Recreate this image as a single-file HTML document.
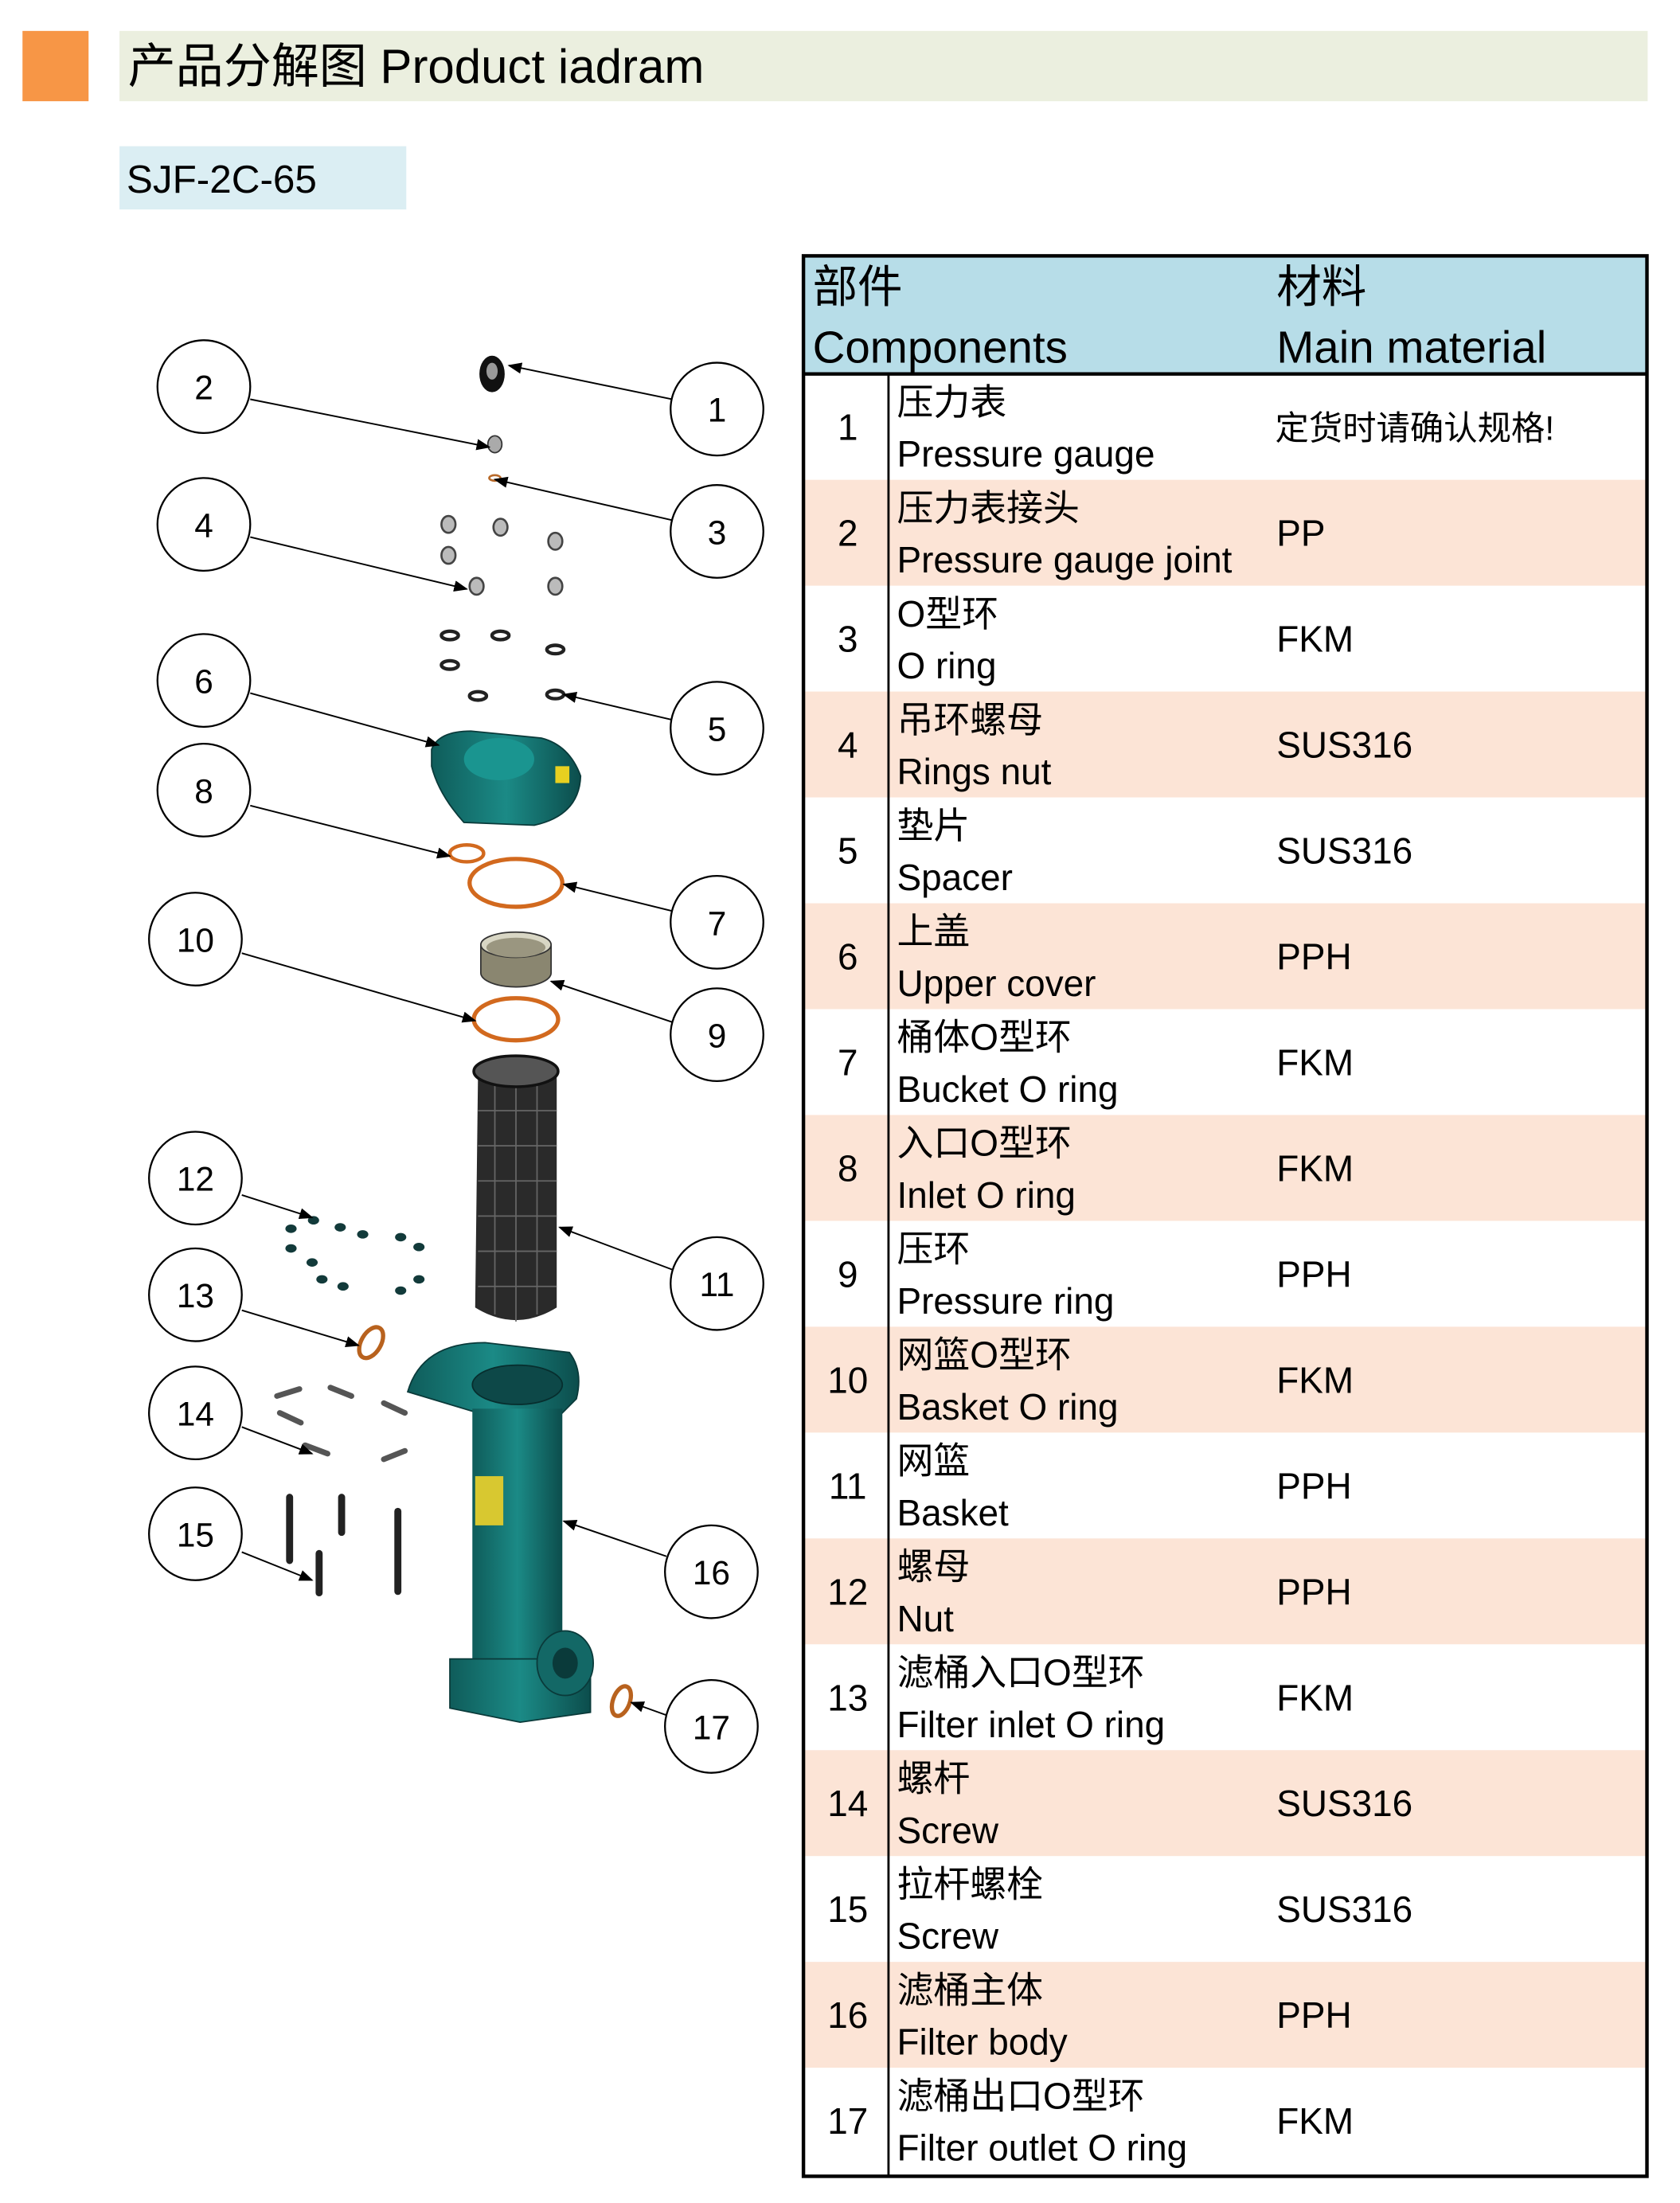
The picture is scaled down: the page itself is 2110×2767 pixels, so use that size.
<!DOCTYPE html>
<html><head><meta charset="utf-8"><style>html,body{margin:0;padding:0;background:#fff}svg{display:block}</style></head><body>
<svg width="2110" height="2767" viewBox="0 0 1195 1567" preserveAspectRatio="none" xmlns="http://www.w3.org/2000/svg" font-family="'Liberation Sans','Noto Sans CJK SC',sans-serif">
<defs><marker id="a" markerWidth="10" markerHeight="8" refX="9" refY="4" orient="auto" markerUnits="userSpaceOnUse"><path d="M0,0 L10,4 L0,8 z" fill="#000"/></marker>
<linearGradient id="teal" x1="0" x2="1"><stop offset="0" stop-color="#0f5c5a"/><stop offset="0.5" stop-color="#1b8a86"/><stop offset="1" stop-color="#0c4d4c"/></linearGradient></defs>
<rect x="16" y="22" width="47" height="50" fill="#f79646"/>
<rect x="85" y="22" width="1087" height="50" fill="#ebefdf"/>
<text x="91" y="59" font-size="34">产品分解图 Product iadram</text>
<rect x="85" y="104" width="204" height="45" fill="#dbeef3"/>
<text x="90" y="137" font-size="28">SJF-2C-65</text>
<rect x="571" y="181" width="601" height="85" fill="#b7dde8"/>
<text x="578" y="215" font-size="32">部件</text><text x="578" y="258" font-size="32">Components</text>
<text x="908" y="215" font-size="32">材料</text><text x="908" y="258" font-size="32">Main material</text>
<g>
<rect x="571" y="341.3" width="601" height="75.3" fill="#fce4d6"/>
<rect x="571" y="491.9" width="601" height="75.3" fill="#fce4d6"/>
<rect x="571" y="642.5" width="601" height="75.3" fill="#fce4d6"/>
<rect x="571" y="793.1" width="601" height="75.3" fill="#fce4d6"/>
<rect x="571" y="943.7" width="601" height="75.3" fill="#fce4d6"/>
<rect x="571" y="1094.3" width="601" height="75.3" fill="#fce4d6"/>
<rect x="571" y="1244.9" width="601" height="75.3" fill="#fce4d6"/>
<rect x="571" y="1395.5" width="601" height="75.3" fill="#fce4d6"/>
</g>
<g font-size="26">
<g transform="translate(0,266)"><text x="603" y="47" text-anchor="middle">1</text><text x="638" y="29">压力表</text><text x="638" y="66">Pressure gauge</text><text x="907" y="47" font-size="24">定货时请确认规格!</text></g>
<g transform="translate(0,341.3)"><text x="603" y="47" text-anchor="middle">2</text><text x="638" y="29">压力表接头</text><text x="638" y="66">Pressure gauge joint</text><text x="908" y="47">PP</text></g>
<g transform="translate(0,416.6)"><text x="603" y="47" text-anchor="middle">3</text><text x="638" y="29">O型环</text><text x="638" y="66">O ring</text><text x="908" y="47">FKM</text></g>
<g transform="translate(0,491.9)"><text x="603" y="47" text-anchor="middle">4</text><text x="638" y="29">吊环螺母</text><text x="638" y="66">Rings nut</text><text x="908" y="47">SUS316</text></g>
<g transform="translate(0,567.2)"><text x="603" y="47" text-anchor="middle">5</text><text x="638" y="29">垫片</text><text x="638" y="66">Spacer</text><text x="908" y="47">SUS316</text></g>
<g transform="translate(0,642.5)"><text x="603" y="47" text-anchor="middle">6</text><text x="638" y="29">上盖</text><text x="638" y="66">Upper cover</text><text x="908" y="47">PPH</text></g>
<g transform="translate(0,717.8)"><text x="603" y="47" text-anchor="middle">7</text><text x="638" y="29">桶体O型环</text><text x="638" y="66">Bucket O ring</text><text x="908" y="47">FKM</text></g>
<g transform="translate(0,793.1)"><text x="603" y="47" text-anchor="middle">8</text><text x="638" y="29">入口O型环</text><text x="638" y="66">Inlet O ring</text><text x="908" y="47">FKM</text></g>
<g transform="translate(0,868.4)"><text x="603" y="47" text-anchor="middle">9</text><text x="638" y="29">压环</text><text x="638" y="66">Pressure ring</text><text x="908" y="47">PPH</text></g>
<g transform="translate(0,943.7)"><text x="603" y="47" text-anchor="middle">10</text><text x="638" y="29">网篮O型环</text><text x="638" y="66">Basket O ring</text><text x="908" y="47">FKM</text></g>
<g transform="translate(0,1019)"><text x="603" y="47" text-anchor="middle">11</text><text x="638" y="29">网篮</text><text x="638" y="66">Basket</text><text x="908" y="47">PPH</text></g>
<g transform="translate(0,1094.3)"><text x="603" y="47" text-anchor="middle">12</text><text x="638" y="29">螺母</text><text x="638" y="66">Nut</text><text x="908" y="47">PPH</text></g>
<g transform="translate(0,1169.6)"><text x="603" y="47" text-anchor="middle">13</text><text x="638" y="29">滤桶入口O型环</text><text x="638" y="66">Filter inlet O ring</text><text x="908" y="47">FKM</text></g>
<g transform="translate(0,1244.9)"><text x="603" y="47" text-anchor="middle">14</text><text x="638" y="29">螺杆</text><text x="638" y="66">Screw</text><text x="908" y="47">SUS316</text></g>
<g transform="translate(0,1320.2)"><text x="603" y="47" text-anchor="middle">15</text><text x="638" y="29">拉杆螺栓</text><text x="638" y="66">Screw</text><text x="908" y="47">SUS316</text></g>
<g transform="translate(0,1395.5)"><text x="603" y="47" text-anchor="middle">16</text><text x="638" y="29">滤桶主体</text><text x="638" y="66">Filter body</text><text x="908" y="47">PPH</text></g>
<g transform="translate(0,1470.8)"><text x="603" y="47" text-anchor="middle">17</text><text x="638" y="29">滤桶出口O型环</text><text x="638" y="66">Filter outlet O ring</text><text x="908" y="47">FKM</text></g>
</g>
<line x1="632" y1="266" x2="632" y2="1548" stroke="#000" stroke-width="1.6"/>
<line x1="571" y1="266" x2="1172" y2="266" stroke="#000" stroke-width="2.5"/>
<rect x="571.5" y="182" width="600" height="1366" fill="none" stroke="#000" stroke-width="2.5"/>
<g>
<ellipse cx="350" cy="266" rx="9" ry="13" fill="#111"/><ellipse cx="350" cy="264" rx="4" ry="6" fill="#999"/>
<ellipse cx="352" cy="316" rx="5" ry="6" fill="#aaa" stroke="#333"/>
<ellipse cx="352" cy="340" rx="4" ry="2" fill="none" stroke="#b86a2a" stroke-width="1.5"/>
<g fill="#bbb" stroke="#444" stroke-width="1.5">
<ellipse cx="319" cy="373" rx="5" ry="6"/><ellipse cx="319" cy="395" rx="5" ry="6"/><ellipse cx="356" cy="375" rx="5" ry="6"/><ellipse cx="395" cy="385" rx="5" ry="6"/><ellipse cx="339" cy="417" rx="5" ry="6"/><ellipse cx="395" cy="417" rx="5" ry="6"/></g>
<g fill="#fff" stroke="#222" stroke-width="2.5">
<ellipse cx="320" cy="452" rx="6" ry="3"/><ellipse cx="356" cy="452" rx="6" ry="3"/><ellipse cx="395" cy="462" rx="6" ry="3"/><ellipse cx="320" cy="473" rx="6" ry="3"/><ellipse cx="340" cy="495" rx="6" ry="3"/><ellipse cx="395" cy="494" rx="6" ry="3"/></g>
<path d="M307,533 Q312,520 335,520 L385,525 Q405,530 413,552 Q412,580 380,587 L330,585 Q312,565 307,545 Z" fill="url(#teal)" stroke="#0a3a3a"/>
<ellipse cx="355" cy="540" rx="25" ry="15" fill="#1a9590"/>
<rect x="395" y="545" width="10" height="12" fill="#e8d020"/>
<ellipse cx="332" cy="607" rx="12" ry="6" fill="none" stroke="#d2691e" stroke-width="2.5"/>
<ellipse cx="367" cy="628" rx="33" ry="17" fill="none" stroke="#d2691e" stroke-width="3"/>
<path d="M342,672 v20 a25,10 0 0 0 50,0 v-20" fill="#8a8670" stroke="#333"/>
<ellipse cx="367" cy="672" rx="25" ry="9" fill="#d8d6c4" stroke="#333"/><ellipse cx="367" cy="674" rx="21" ry="7" fill="#9a9680"/>
<ellipse cx="367" cy="725" rx="30" ry="15" fill="none" stroke="#d2691e" stroke-width="3"/>
<path d="M340,765 L338,930 Q367,948 396,930 L396,765 Z" fill="#2a2a2a"/>
<g stroke="#666" stroke-width="1"><line x1="340" y1="790" x2="396" y2="790"/><line x1="340" y1="815" x2="396" y2="815"/><line x1="340" y1="840" x2="396" y2="840"/><line x1="340" y1="865" x2="396" y2="865"/><line x1="340" y1="890" x2="396" y2="890"/><line x1="340" y1="915" x2="396" y2="915"/><line x1="352" y1="770" x2="352" y2="935"/><line x1="367" y1="770" x2="367" y2="940"/><line x1="382" y1="770" x2="382" y2="935"/></g>
<ellipse cx="367" cy="762" rx="30" ry="11" fill="#555" stroke="#111" stroke-width="2"/>
<g fill="#123a3a"><ellipse cx="223" cy="868" rx="4" ry="3"/><ellipse cx="207" cy="874" rx="4" ry="3"/><ellipse cx="242" cy="873" rx="4" ry="3"/><ellipse cx="258" cy="878" rx="4" ry="3"/><ellipse cx="285" cy="880" rx="4" ry="3"/><ellipse cx="298" cy="887" rx="4" ry="3"/><ellipse cx="207" cy="888" rx="4" ry="3"/><ellipse cx="222" cy="898" rx="4" ry="3"/><ellipse cx="229" cy="910" rx="4" ry="3"/><ellipse cx="244" cy="915" rx="4" ry="3"/><ellipse cx="285" cy="918" rx="4" ry="3"/><ellipse cx="298" cy="910" rx="4" ry="3"/></g>
<ellipse cx="264" cy="955" rx="7" ry="12" transform="rotate(30 264 955)" fill="none" stroke="#b8621e" stroke-width="3"/>
<g stroke="#555" stroke-width="4" stroke-linecap="round"><line x1="197" y1="993" x2="213" y2="988"/><line x1="235" y1="987" x2="250" y2="993"/><line x1="273" y1="998" x2="288" y2="1005"/><line x1="199" y1="1005" x2="214" y2="1012"/><line x1="217" y1="1028" x2="233" y2="1034"/><line x1="273" y1="1038" x2="288" y2="1032"/></g>
<g stroke="#222" stroke-width="5" stroke-linecap="round"><line x1="206" y1="1065" x2="206" y2="1110"/><line x1="243" y1="1065" x2="243" y2="1090"/><line x1="283" y1="1075" x2="283" y2="1132"/><line x1="227" y1="1105" x2="227" y2="1133"/></g>
<path d="M290,990 Q300,955 345,955 L405,962 Q415,975 410,995 L395,1010 L340,1005 Z" fill="url(#teal)" stroke="#0a3a3a"/>
<ellipse cx="368" cy="985" rx="32" ry="14" fill="#0d4848" stroke="#072e2e"/>
<rect x="336" y="1002" width="64" height="185" fill="url(#teal)"/>
<rect x="338" y="1050" width="20" height="35" fill="#d8c830"/>
<path d="M320,1180 L420,1180 L420,1218 L370,1225 L320,1215 Z" fill="url(#teal)" stroke="#0a3a3a"/>
<ellipse cx="402" cy="1183" rx="20" ry="23" fill="#136866" stroke="#0a3a3a"/><ellipse cx="402" cy="1183" rx="9" ry="11" fill="#0a3a3a"/>
<ellipse cx="442" cy="1210" rx="6" ry="11" transform="rotate(20 442 1210)" fill="none" stroke="#b8621e" stroke-width="3"/>
</g>
<g stroke="#000" stroke-width="1.1" marker-end="url(#a)">
<line x1="178" y1="284" x2="348" y2="318"/><line x1="478" y1="284" x2="362" y2="260"/><line x1="478" y1="370" x2="352" y2="341"/><line x1="178" y1="382" x2="332" y2="419"/><line x1="478" y1="512" x2="401" y2="494"/><line x1="178" y1="493" x2="312" y2="530"/><line x1="178" y1="573" x2="320" y2="609"/><line x1="478" y1="648" x2="401" y2="629"/><line x1="172" y1="678" x2="338" y2="726"/><line x1="478" y1="727" x2="392" y2="698"/><line x1="172" y1="850" x2="222" y2="866"/><line x1="478" y1="903" x2="398" y2="873"/><line x1="172" y1="932" x2="255" y2="957"/><line x1="172" y1="1015" x2="222" y2="1034"/><line x1="474" y1="1107" x2="401" y2="1082"/><line x1="172" y1="1104" x2="222" y2="1124"/><line x1="474" y1="1220" x2="449" y2="1211"/>
</g>
<g fill="#fff" stroke="#000" stroke-width="1.3">
<ellipse cx="145" cy="275" rx="33" ry="33"/><ellipse cx="510" cy="291" rx="33" ry="33"/><ellipse cx="510" cy="378" rx="33" ry="33"/><ellipse cx="145" cy="373" rx="33" ry="33"/><ellipse cx="510" cy="518" rx="33" ry="33"/><ellipse cx="145" cy="484" rx="33" ry="33"/><ellipse cx="145" cy="562" rx="33" ry="33"/><ellipse cx="510" cy="656" rx="33" ry="33"/><ellipse cx="139" cy="668" rx="33" ry="33"/><ellipse cx="510" cy="736" rx="33" ry="33"/><ellipse cx="139" cy="838" rx="33" ry="33"/><ellipse cx="510" cy="913" rx="33" ry="33"/><ellipse cx="139" cy="921" rx="33" ry="33"/><ellipse cx="139" cy="1005" rx="33" ry="33"/><ellipse cx="506" cy="1118" rx="33" ry="33"/><ellipse cx="139" cy="1091" rx="33" ry="33"/><ellipse cx="506" cy="1228" rx="33" ry="33"/>
</g>
<g font-size="24" text-anchor="middle">
<text x="145" y="284">2</text><text x="510" y="300">1</text><text x="510" y="387">3</text><text x="145" y="382">4</text><text x="510" y="527">5</text><text x="145" y="493">6</text><text x="145" y="571">8</text><text x="510" y="665">7</text><text x="139" y="677">10</text><text x="510" y="745">9</text><text x="139" y="847">12</text><text x="510" y="922">11</text><text x="139" y="930">13</text><text x="139" y="1014">14</text><text x="506" y="1127">16</text><text x="139" y="1100">15</text><text x="506" y="1237">17</text>
</g>
</svg>
</body></html>
